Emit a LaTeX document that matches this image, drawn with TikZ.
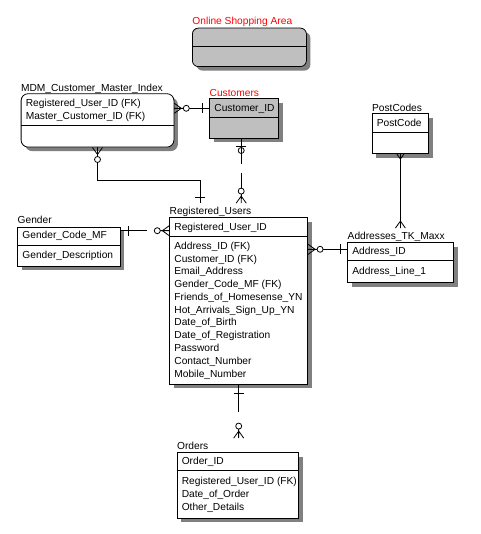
\documentclass[tikz,border=0pt]{standalone}
\usepackage{fontspec}
\setmainfont{Liberation Sans}
\usetikzlibrary{shadows}

\tikzset{
  entity/.style={draw, fill=white, anchor=north west, inner sep=0pt,
    drop shadow={shadow xshift=4pt, shadow yshift=-4pt, fill=black!50, opacity=1}},
  etitle/.style={anchor=base west, inner xsep=0pt, inner ysep=3.5pt},
  attr/.style={anchor=base west, inner xsep=0pt, inner ysep=1pt},
  nonident/.style={dash pattern=on 26pt off 9pt},
  crowzero/.pic={
    \draw (0,5) -- (7,0) -- (0,-5) (0,0) -- (9,0);
    \draw[fill=white] (12,0) circle (3);
  },
  crowmany/.pic={\draw (0,5) -- (7,0) -- (0,-5) (0,0) -- (7,0);},
  zeroone/.pic={
    \draw (8,5) -- (8,-5);
    \draw (12,0) circle (3);
  },
  onebar/.pic={\draw (#1,5) -- (#1,-5);},
  vmark/.pic={\draw (0,3.5) -- (5,0) -- (0,-3.5);}
}

\begin{document}
\begin{tikzpicture}[x=1pt, y=-1pt, line width=0.8pt, font=\fontsize{10.2}{12}\selectfont]
\useasboundingbox (0,0) rectangle (480,534);

% Online Shopping Area
\node[entity, rounded corners=6pt, fill=black!25, minimum width=114pt, minimum height=38.5pt] (area) at (192,27.7) {};
\draw ([yshift=-18.3]area.north west) -- ([yshift=-18.3]area.north east);
\node[etitle, red] (area-t) at (192,24.4) {Online Shopping Area};

% MDM_Customer_Master_Index
\node[entity, rounded corners=7pt, minimum width=152.8pt, minimum height=53.4pt] (mdm) at (20.7,93.3) {};
\draw ([yshift=-32]mdm.north west) -- ([yshift=-32]mdm.north east);
\node[etitle] (mdm-t) at (20.7,91.4) {MDM\_Customer\_Master\_Index};
\node[attr] (mdm-1) at (25.4,107) {Registered\_User\_ID (FK)};
\node[attr] (mdm-2) at (25.4,119.7) {Master\_Customer\_ID (FK)};

% Customers
\node[entity, fill=black!25, minimum width=69pt, minimum height=39.4pt] (cust) at (209.3,98.3) {};
\draw ([yshift=-19]cust.north west) -- ([yshift=-19]cust.north east);
\node[etitle, red] (cust-t) at (209.3,96.4) {Customers};
\node[attr] (cust-1) at (214,111.4) {Customer\_ID};

% Registered_Users
\node[entity, minimum width=138pt, minimum height=166.7pt] (reg) at (169.3,217.3) {};
\draw ([yshift=-18.7]reg.north west) -- ([yshift=-18.7]reg.north east);
\node[etitle] (reg-t) at (169.3,214.4) {Registered\_Users};
\node[attr] (reg-key) at (174,230.4) {Registered\_User\_ID};
\foreach \txt [count=\i] in {Address\_ID (FK), Customer\_ID (FK), Email\_Address,
    Gender\_Code\_MF (FK), Friends\_of\_Homesense\_YN, Hot\_Arrivals\_Sign\_Up\_YN,
    Date\_of\_Birth, Date\_of\_Registration, Password, Contact\_Number, Mobile\_Number}
  \node[attr] (reg-\i) at (174,{249.3+(\i-1)*12.77}) {\txt};

% Gender
\node[entity, minimum width=102.7pt, minimum height=39.3pt] (gender) at (17.3,226.7) {};
\draw ([yshift=-18.3]gender.north west) -- ([yshift=-18.3]gender.north east);
\node[etitle] (gender-t) at (17.3,223.7) {Gender};
\node[attr] (gender-1) at (22,238.7) {Gender\_Code\_MF};
\node[attr] (gender-2) at (22,258) {Gender\_Description};

% PostCodes
\node[entity, minimum width=56.6pt, minimum height=40pt] (post) at (371.7,113.3) {};
\draw ([yshift=-19]post.north west) -- ([yshift=-19]post.north east);
\node[etitle] (post-t) at (371.7,111.4) {PostCodes};
\node[attr] (post-1) at (376.4,126.4) {PostCode};

% Addresses_TK_Maxx
\node[entity, minimum width=106pt, minimum height=40pt] (addr) at (347.3,242.3) {};
\draw ([yshift=-18.4]addr.north west) -- ([yshift=-18.4]addr.north east);
\node[etitle] (addr-t) at (347.3,239.4) {Addresses\_TK\_Maxx};
\node[attr] (addr-1) at (352,254.7) {Address\_ID};
\node[attr] (addr-2) at (352,274.4) {Address\_Line\_1};

% Orders
\node[entity, minimum width=121.6pt, minimum height=65.4pt] (ord) at (176.7,452.3) {};
\draw ([yshift=-18.4]ord.north west) -- ([yshift=-18.4]ord.north east);
\node[etitle] (ord-t) at (176.7,449.4) {Orders};
\node[attr] (ord-1) at (181.4,464.7) {Order\_ID};
\node[attr] (ord-2) at (181.4,484.4) {Registered\_User\_ID (FK)};
\node[attr] (ord-3) at (181.4,497.2) {Date\_of\_Order};
\node[attr] (ord-4) at (181.4,510) {Other\_Details};

% relationships
\coordinate (mc) at ([yshift=-10]cust.north west);
\draw (mc -| mdm.east) -- (mc);
\pic at (mc -| mdm.east) {crowzero};
\pic[rotate=180] at (mc) {onebar=7};

\coordinate (cr) at ([xshift=-3]cust.south);
\draw[nonident] (cr) -- (cr |- reg-t.north);
\pic[rotate=-90] at (cr) {zeroone};
\pic[rotate=90] at (cr |- reg-t.north) {crowzero};

\draw (mdm.south) -- ++(0,32.6) -| ([xshift=31]reg-t.north west);
\pic[rotate=-90] at (mdm.south) {crowzero};
\pic[rotate=90] at ([xshift=31]reg-t.north west) {onebar=6};

\coordinate (gr) at ([yshift=-4]gender.north east);
\draw[nonident] (gr) -- (gr -| reg.west);
\pic at (gr) {onebar=8};
\pic[rotate=180] at (gr -| reg.west) {crowzero};

\coordinate (ra) at ([yshift=-7]addr.north west);
\draw (ra -| reg.east) -- (ra);
\pic at (ra -| reg.east) {crowzero};
\pic[rotate=180] at (ra) {onebar=7};

\draw (post.south) -- (post.south |- addr-t.north);
\pic[rotate=-90] at (post.south) {vmark};
\pic[rotate=90] at (post.south |- addr-t.north) {crowmany};

\draw[nonident, dash pattern=on 27pt off 12pt] (reg.south) -- (reg.south |- ord-t.north);
\pic[rotate=-90] at (reg.south) {onebar=9};
\pic[rotate=90] at (reg.south |- ord-t.north) {crowzero};

\end{tikzpicture}
\end{document}
